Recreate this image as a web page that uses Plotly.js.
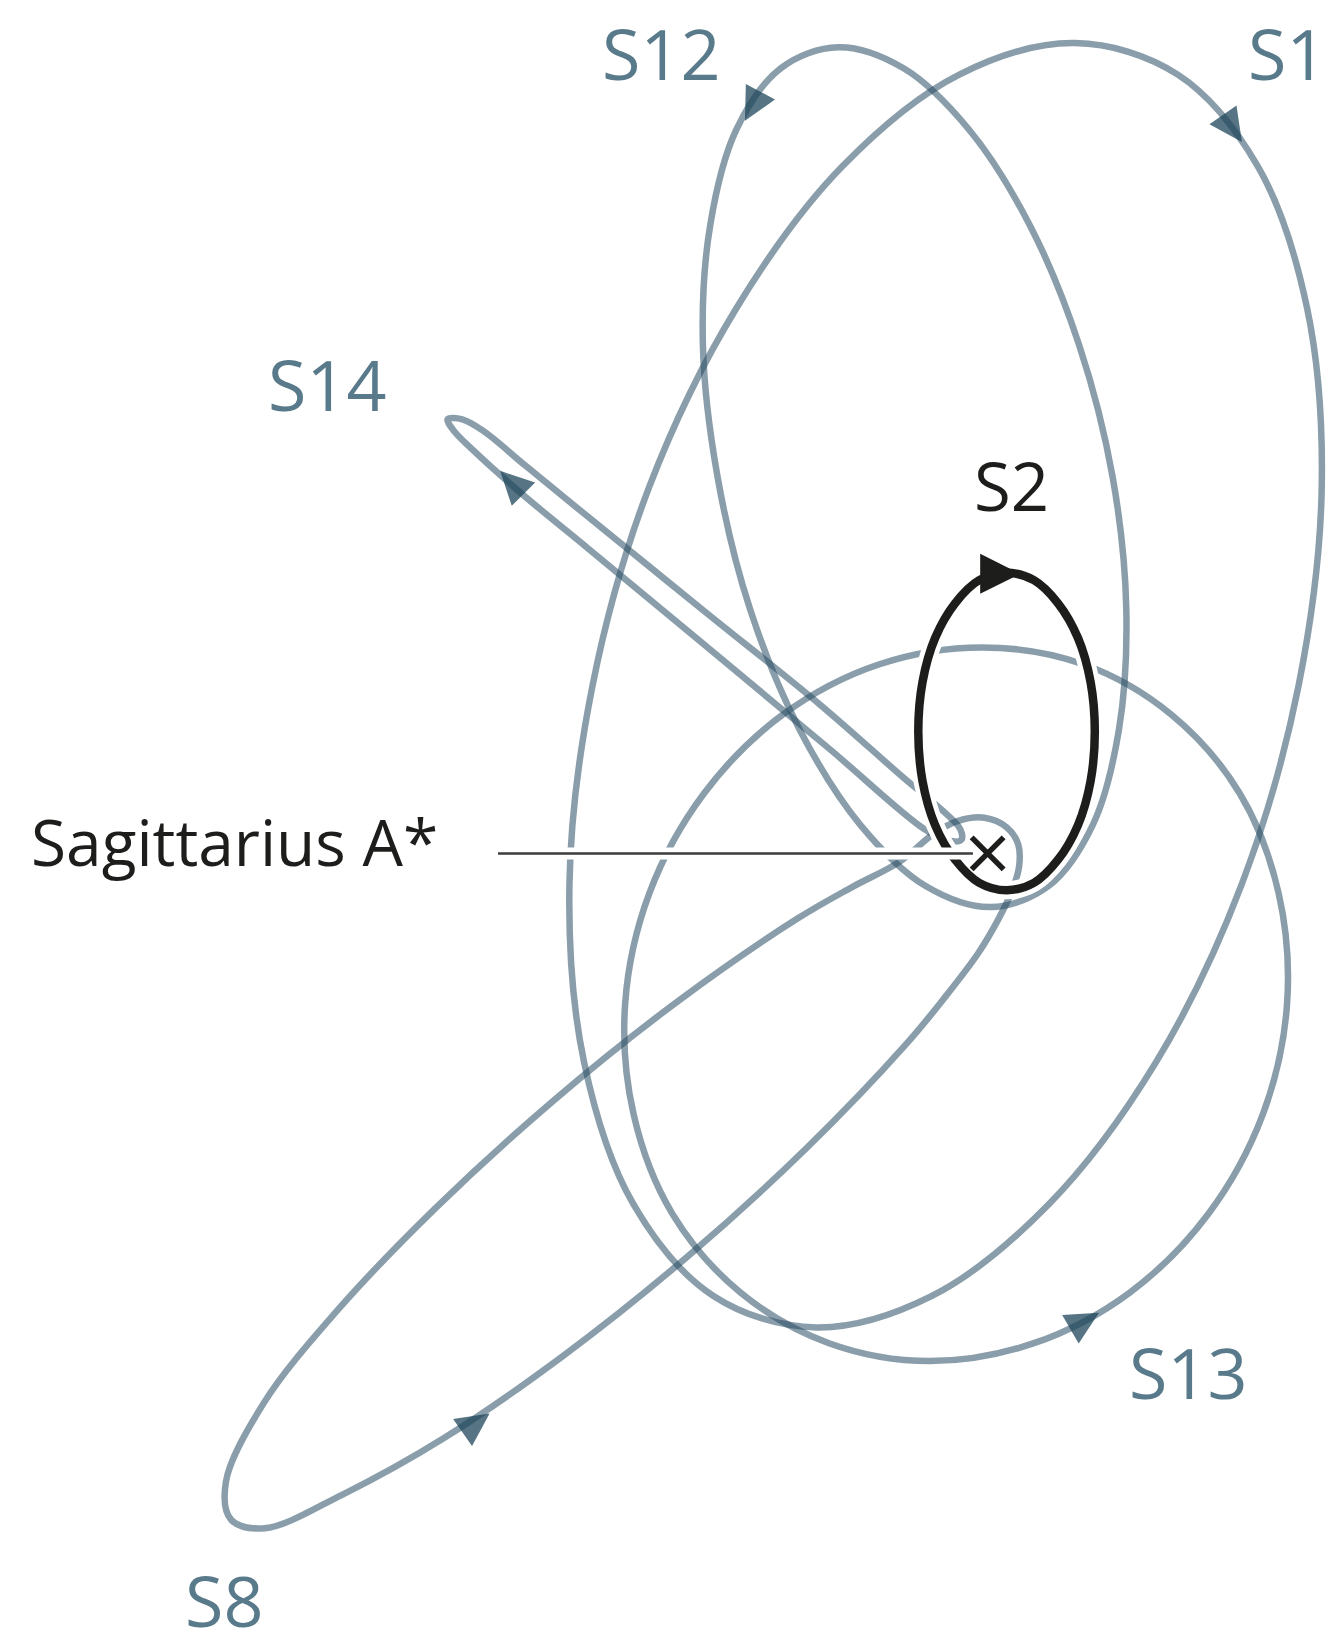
<!DOCTYPE html>
<html>
<head>
<meta charset="utf-8">
<script src="https://cdn.plot.ly/plotly-3.0.1.min.js"></script>
<style>
  html, body { margin: 0; padding: 0; background: #ffffff; }
  #chart { width: 1327px; height: 1648px; }
</style>
</head>
<body>
<div id="chart"></div>
<script>
// Sky-plane offsets of each star relative to Sagittarius A* (arbitrary units, x right, y up),
// read off the reference picture.
const starNames = ['S1', 'S12', 'S13', 'S14', 'S8'];

const s1X  = [296, 242, 160, 58, -53, -163, -261, -337, -384, -398, -376, -322, -239, -138, -27, 83, 181, 257, 304, 318];
const s1Y  = [160, -29, -199, -334, -421, -451, -421, -334, -199, -29, 160, 349, 519, 654, 741, 771, 741, 654, 519, 349];

const s12X = [119, 132, 125, 100, 58, 3, -59, -121, -179, -226, -257, -271, -264, -239, -197, -142, -80, -18, 40, 87];
const s12Y = [358, 232, 118, 27, -31, -51, -31, 27, 118, 232, 358, 484, 598, 689, 747, 767, 747, 689, 598, 484];

const s13X = [285, 262, 210, 135, 44, -55, -151, -235, -300, -337, -345, -322, -270, -195, -103, -5, 91, 175, 240, 277];
const s13Y = [-143, -248, -343, -418, -466, -483, -466, -418, -343, -248, -143, -38, 57, 132, 180, 196, 180, 132, 57, -38];

const s14X = [-269, -160, -80, -42, -26, -25, -37, -60, -150, -269, -380, -442, -490, -508, -514, -500, -480, -440, -380];
const s14Y = [230, 142, 72, 40, 23, 13, 12, 23, 99, 198, 290, 341, 384, 402, 413, 413, 402, 369, 320];

const s8X  = [-285, -404, -517, -614, -688, -720, -725, -689, -620, -525, -413, -294, -181, -129, -84, -51, -28, -3, 18, 29, 30, 23, 10, -9, -40, -78, -173];
const s8Y  = [-383, -478, -556, -610, -642, -634, -598, -523, -436, -337, -235, -140, -62, -32, -8, 19, 31, 34, 25, 9, -12, -36, -63, -95, -136, -182, -281];

const s2X  = [102, 98, 86, 67, 44, 18, -8, -31, -50, -62, -66, -62, -50, -31, -8, 18, 44, 67, 86, 98];
const s2Y  = [116, 69, 27, -6, -28, -35, -28, -6, 27, 69, 116, 163, 205, 238, 260, 267, 260, 238, 205, 163];

// Direction-of-motion arrow tips (S1, S12, S13, S14, S8) and their headings (deg, clockwise from up)
const arrowX     = [242, -231, 106, -464, -474];
const arrowY     = [677, 697, -437, 364, -533];
const arrowAngle = [145, 208, 60, 315, 55];

const s2ArrowX = [31], s2ArrowY = [266], s2ArrowAngle = [90];

// Sagittarius A* and its leader line
const sgrX = [0], sgrY = [0];
const leaderX = [-466, -14], leaderY = [0, 0];

// Label texts
const labelTexts = ['S12', 'S1', 'S14', 'S2', 'S13', 'S8'];
const sgrLabel = 'Sagittarius A*';

// ---- drawing ----
// repeat the first point so Plotly draws a smooth closed spline
function closeLoop(a) { return a.concat([a[0]]); }

const orbitColor = 'rgba(40,76,100,0.55)';
const labelColor = '#587a8a';
const ink = '#1d1d1b';

const orbitSeries = [[s1X, s1Y], [s12X, s12Y], [s13X, s13Y], [s14X, s14Y], [s8X, s8Y]];
const traces = [];

orbitSeries.forEach(function (o, i) {
  traces.push({
    type: 'scatter', mode: 'lines', name: starNames[i],
    x: closeLoop(o[0]), y: closeLoop(o[1]),
    line: { color: orbitColor, width: 6.5, shape: 'spline', smoothing: 1 },
    hoverinfo: 'skip'
  });
});

traces.push({
  type: 'scatter', mode: 'markers', x: arrowX, y: arrowY, hoverinfo: 'skip',
  marker: { symbol: 'arrow-up', size: 33, angle: arrowAngle, color: 'rgba(30,70,90,0.75)', line: { width: 0 } }
});

// S2 with white halo
traces.push({
  type: 'scatter', mode: 'lines', x: closeLoop(s2X), y: closeLoop(s2Y), hoverinfo: 'skip',
  line: { color: '#ffffff', width: 18, shape: 'spline', smoothing: 1 }
});
traces.push({
  type: 'scatter', mode: 'lines', name: 'S2', x: closeLoop(s2X), y: closeLoop(s2Y), hoverinfo: 'skip',
  line: { color: ink, width: 8.5, shape: 'spline', smoothing: 1 }
});
traces.push({
  type: 'scatter', mode: 'markers', x: s2ArrowX, y: s2ArrowY, hoverinfo: 'skip',
  marker: { symbol: 'arrow-up', size: 40, angle: s2ArrowAngle, color: ink, line: { width: 0 } }
});

// leader line with halo
traces.push({
  type: 'scatter', mode: 'lines', x: leaderX, y: leaderY, hoverinfo: 'skip',
  line: { color: '#ffffff', width: 12 }
});
traces.push({
  type: 'scatter', mode: 'lines', x: leaderX, y: leaderY, hoverinfo: 'skip',
  line: { color: '#3c3c3b', width: 2.6 }
});

// Sagittarius A* cross with halo
traces.push({
  type: 'scatter', mode: 'markers', x: sgrX, y: sgrY, hoverinfo: 'skip',
  marker: { symbol: 'x-thin', size: 32, color: '#ffffff', line: { color: '#ffffff', width: 13 } }
});
traces.push({
  type: 'scatter', mode: 'markers', x: sgrX, y: sgrY, hoverinfo: 'skip',
  marker: { symbol: 'x-thin', size: 32, color: ink, line: { color: ink, width: 5.5 } }
});

// label placement
const labelPos = {
  'S12': [-311, 762], 'S1': [285, 762], 'S14': [-629, 447],
  'S2': [23, 351], 'S13': [191, -493], 'S8': [-727, -710]
};

const annotations = labelTexts.map(function (t) {
  return {
    x: labelPos[t][0], y: labelPos[t][1], xref: 'x', yref: 'y',
    text: t, showarrow: false, xanchor: 'center', yanchor: 'middle',
    font: { family: 'Open Sans, sans-serif', size: t === 'S2' ? 67 : 70, color: t === 'S2' ? ink : labelColor }
  };
});
annotations.push({
  x: -912, y: 11, xref: 'x', yref: 'y', text: sgrLabel, showarrow: false,
  xanchor: 'left', yanchor: 'middle',
  font: { family: 'Open Sans, sans-serif', size: 64, color: ink }
});

const layout = {
  width: 1327, height: 1648,
  margin: { l: 0, r: 0, t: 0, b: 0, pad: 0 },
  paper_bgcolor: '#ffffff', plot_bgcolor: '#ffffff',
  showlegend: false,
  xaxis: { range: [-940, 323], visible: false, fixedrange: true },
  yaxis: { range: [-756, 812], visible: false, fixedrange: true },
  annotations: annotations
};

Plotly.newPlot('chart', traces, layout, { displayModeBar: false, staticPlot: true });
</script>
</body>
</html>
